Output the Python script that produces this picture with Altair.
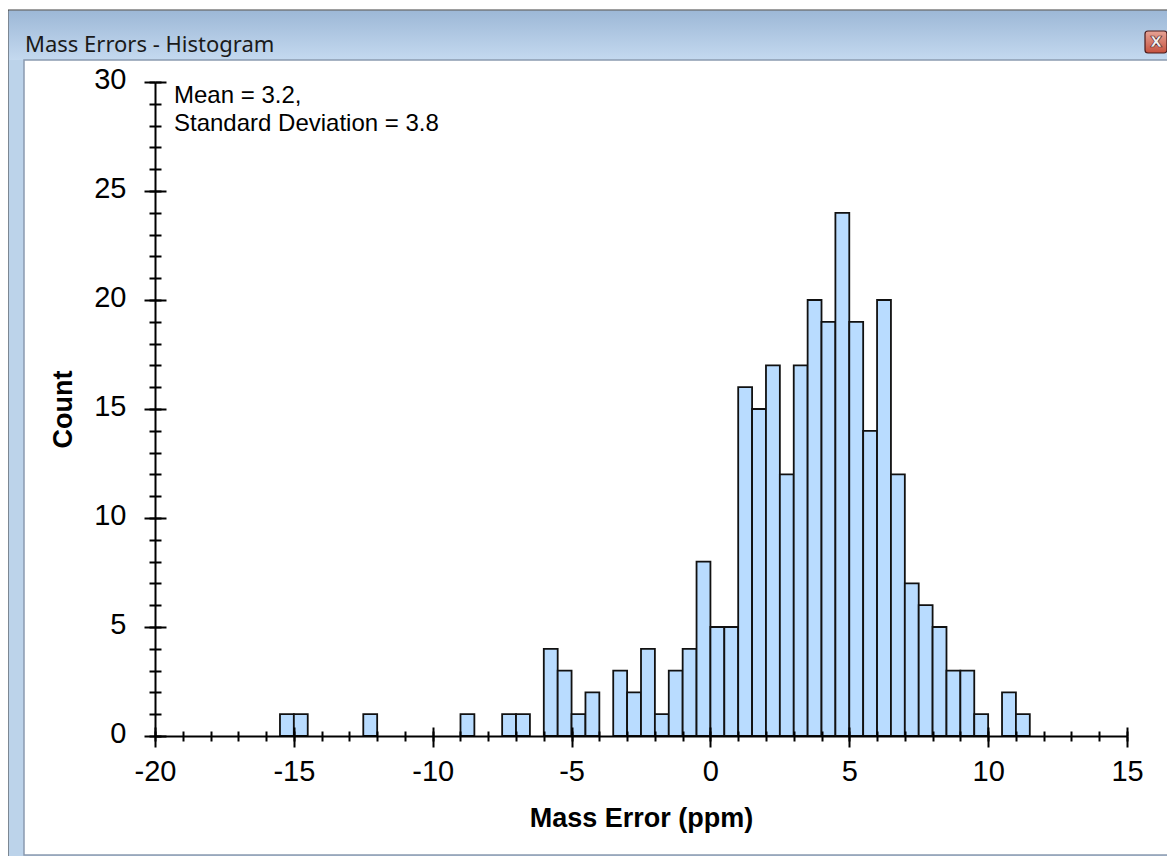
import altair as alt
import pandas as pd

# ---------------- data ----------------
bin_start = [-15.5, -15.0, -14.5, -14.0, -13.5, -13.0, -12.5, -12.0, -11.5, -11.0,
             -10.5, -10.0, -9.5, -9.0, -8.5, -8.0, -7.5, -7.0, -6.5, -6.0,
             -5.5, -5.0, -4.5, -4.0, -3.5, -3.0, -2.5, -2.0, -1.5, -1.0,
             -0.5, 0.0, 0.5, 1.0, 1.5, 2.0, 2.5, 3.0, 3.5, 4.0,
             4.5, 5.0, 5.5, 6.0, 6.5, 7.0, 7.5, 8.0, 8.5, 9.0,
             9.5, 10.0, 10.5, 11.0]
counts = [1, 1, 0, 0, 0, 0, 1, 0, 0, 0,
          0, 0, 0, 1, 0, 0, 1, 1, 0, 4,
          3, 1, 2, 0, 3, 2, 4, 1, 3, 4,
          8, 5, 5, 16, 15, 17, 12, 17, 20, 19,
          24, 19, 14, 20, 12, 7, 6, 5, 3, 3,
          1, 0, 2, 1]
bin_width = 0.5

x_major = [-20, -15, -10, -5, 0, 5, 10, 15]
x_minor = list(range(-20, 16))
y_major = [0, 5, 10, 15, 20, 25, 30]
y_minor = list(range(0, 31))

window_title = "Mass Errors - Histogram"
x_title = "Mass Error (ppm)"
y_title = "Count"
annotation = ["Mean = 3.2,", "Standard Deviation = 3.8"]

# ---------------- layout ----------------
W, H = 972, 654
FONT = "Liberation Sans"

df = pd.DataFrame({"start": bin_start, "count": counts})
df = df[df["count"] > 0]

xs = alt.Scale(domain=[-20, 15], nice=False, zero=False)
ys = alt.Scale(domain=[0, 30], nice=False)

base = alt.Chart(df).transform_calculate(end=f"datum.start + {bin_width}")

one = alt.Data(values=[{"k": 0}])

# window decorations
frame = alt.Chart(one).mark_rect(fill="#bcd3ea", stroke="#3c3c3c", strokeWidth=1).encode(
    x=alt.value(-147), x2=alt.value(1020), y=alt.value(-72), y2=alt.value(785))
titlebar = alt.Chart(one).mark_rect(
    fill=alt.LinearGradient(gradient="linear", x1=0, x2=0, y1=0, y2=1,
                            stops=[alt.GradientStop(offset=0, color="#9db8d7"),
                                   alt.GradientStop(offset=1, color="#c4d9ef")])
).encode(x=alt.value(-146), x2=alt.value(1019), y=alt.value(-71), y2=alt.value(-22))
client = alt.Chart(one).mark_rect(fill="white", stroke="#8a9ab0", strokeWidth=1.5).encode(
    x=alt.value(-131), x2=alt.value(1017), y=alt.value(-22), y2=alt.value(773))
closebtn = alt.Chart(one).mark_rect(
    fill=alt.LinearGradient(gradient="linear", x1=0, x2=0, y1=0, y2=1,
                            stops=[alt.GradientStop(offset=0, color="#e6a396"),
                                   alt.GradientStop(offset=1, color="#c6523f")]),
    stroke="#4a1c1c", strokeWidth=1.2, cornerRadius=3
).encode(x=alt.value(990), x2=alt.value(1012), y=alt.value(-51), y2=alt.value(-29))
closex = alt.Chart(one).mark_text(text="x", font="DejaVu Sans", fontSize=19, fontWeight="bold",
                                  fill="#f2f2f2", stroke="#5a2a2a", strokeWidth=0.7,
                                  align="center", baseline="middle").encode(
    x=alt.value(1001), y=alt.value(-41))
title_text = alt.Chart(one).mark_text(text=window_title, font="Noto Sans", fontSize=22,
                                      color="#1a1a1a", align="left", baseline="alphabetic").encode(
    x=alt.value(-130), y=alt.value(-30))

LABEL_EXPR = "'' + datum.value"

# bars with main axes
bars = base.mark_bar(fill="#b9dcff", stroke="#111111", strokeWidth=1.8).encode(
    x=alt.X("start:Q", scale=xs, axis=alt.Axis(
        values=x_major, orient="bottom", domain=True, domainColor="black", domainWidth=2,
        ticks=True, tickSize=11, tickWidth=2, tickColor="black",
        labels=True, labelFont=FONT, labelFontSize=29, labelColor="black", labelExpr=LABEL_EXPR,
        labelPadding=24, labelBaseline="middle", labelFlush=False, labelOverlap=False,
        grid=False, title=x_title, titleFont=FONT, titleFontSize=27, titleFontWeight="bold",
        titleColor="black", titleX=W / 2, titleY=82, titleBaseline="middle", titleAlign="center",
        zindex=2)),
    x2="end:Q",
    y=alt.Y("count:Q", scale=ys, axis=alt.Axis(
        values=y_major, orient="left", domain=True, domainColor="black", domainWidth=2,
        ticks=True, tickSize=11, tickWidth=2, tickColor="black",
        labels=True, labelFont=FONT, labelFontSize=29, labelColor="black", labelExpr=LABEL_EXPR,
        labelPadding=18, labelOffset=-3, labelFlush=False, labelOverlap=False,
        grid=False, title=y_title, titleFont=FONT, titleFontSize=27, titleFontWeight="bold",
        titleColor="black", titleX=-92, titleY=H / 2, titleAngle=270,
        titleBaseline="middle", titleAlign="center", zindex=2)),
    y2=alt.datum(0),
)


def tick_axis(values, size, orient, offset=0):
    return alt.Axis(values=values, orient=orient, offset=offset, domain=False, labels=False,
                    ticks=True, tickSize=size, tickWidth=2, tickColor="black", grid=False,
                    title=None, zindex=2)


def tick_layer(xaxis, yaxis):
    return base.mark_point(opacity=0).encode(
        x=alt.X("start:Q", scale=xs, axis=xaxis),
        y=alt.Y("count:Q", scale=ys, axis=yaxis),
    )


minor_out = tick_layer(tick_axis(x_minor, 5, "bottom"), tick_axis(y_minor, 6, "left"))
major_in = tick_layer(tick_axis(x_major, 9, "top", -H), tick_axis(y_major, 11, "right", -W))
minor_in = tick_layer(tick_axis(x_minor, 5, "top", -H), tick_axis(y_minor, 6, "right", -W))

annot = alt.Chart(one).mark_text(text=annotation, font=FONT, fontSize=24, lineHeight=28,
                                 color="black", align="left", baseline="alphabetic").encode(
    x=alt.value(19), y=alt.value(21))

chart = alt.layer(
    frame, titlebar, client, closebtn, closex, title_text,
    bars, minor_out, major_in, minor_in, annot
).resolve_axis(x="independent", y="independent").properties(
    width=W, height=H,
    padding={"left": 147, "top": 74, "right": 40, "bottom": 120},
    autosize=alt.AutoSizeParams(type="none"),
    background="white",
).configure_view(strokeWidth=0)

chart.save("out.html", embed_options={"renderer": "svg", "actions": False})
